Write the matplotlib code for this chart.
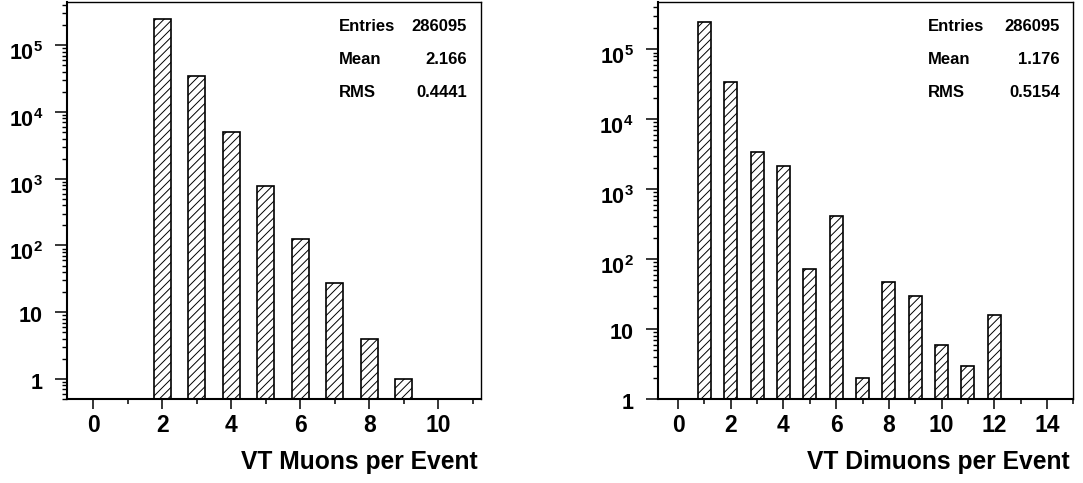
import matplotlib
matplotlib.use("Agg")
import matplotlib.pyplot as plt
import matplotlib.transforms as mtransforms
from matplotlib.ticker import FixedLocator, LogLocator, NullFormatter

plt.rcParams["font.family"] = ["Liberation Sans", "DejaVu Sans"]
plt.rcParams["font.weight"] = "bold"
plt.rcParams["mathtext.fontset"] = "custom"
plt.rcParams["mathtext.rm"] = "Liberation Sans:bold"
plt.rcParams["mathtext.bf"] = "Liberation Sans:bold"
plt.rcParams["hatch.linewidth"] = 0.7

# Multiplicity histograms (bin centre -> event count)
muon_bins = [2, 3, 4, 5, 6, 7, 8, 9]
muon_counts = [245790, 34282, 5084, 778, 126, 27, 4, 1]
muon_stats = [("Entries", "286095"), ("Mean", "2.166"), ("RMS", "0.4441")]

dimuon_bins = [1, 2, 3, 4, 5, 6, 7, 8, 9, 10, 11, 12]
dimuon_counts = [245383, 34650, 3358, 2118, 73, 409, 2, 47, 30, 6, 3, 16]
dimuon_stats = [("Entries", "286095"), ("Mean", "1.176"), ("RMS", "0.5154")]

y_major = [1, 10, 100, 1000, 10000, 100000]
y_labels = ["1", "10", r"$\mathbf{10^{2}}$", r"$\mathbf{10^{3}}$",
            r"$\mathbf{10^{4}}$", r"$\mathbf{10^{5}}$"]

W, H = 1083, 483
fig = plt.figure(figsize=(W / 100, H / 100), dpi=100)
fig.patch.set_facecolor("white")


def px(x, y):
    return x / W, 1 - y / H


def make_panel(rect, bins, counts, xlim, ylim, xmax_tick, stats,
               stat_x, xlabel, xlabel_x):
    ax = fig.add_axes(rect)
    ax.set_yscale("log")
    ax.bar(bins, counts, width=0.5, facecolor="white", edgecolor="black",
           hatch="////", linewidth=1.2, zorder=2)
    ax.set_xlim(*xlim)
    ax.set_ylim(*ylim)

    ax.set_xticks(list(range(0, xmax_tick + 1, 2)))
    ax.set_xticks(list(range(1, xmax_tick + 2, 2)), minor=True)
    ax.set_xticklabels([str(v) for v in range(0, xmax_tick + 1, 2)])
    ax.yaxis.set_major_locator(FixedLocator(y_major))
    ax.set_yticklabels(y_labels)
    ax.yaxis.set_minor_locator(LogLocator(base=10, subs=range(2, 10), numticks=20))
    ax.yaxis.set_minor_formatter(NullFormatter())

    ax.tick_params(axis="x", which="major", length=7.2, width=1.1,
                   direction="out", labelsize=16.5, pad=3.5)
    ax.tick_params(axis="x", which="minor", length=3.6, width=1.1,
                   direction="out")
    ax.tick_params(axis="y", which="major", length=8.6, width=1.1,
                   direction="out", labelsize=15.5, pad=9.0)
    ax.tick_params(axis="y", which="minor", length=3.6, width=1.0,
                   direction="out")
    for lab in ax.get_xticklabels() + ax.get_yticklabels():
        lab.set_fontweight("bold")

    # y labels sit slightly below their ticks; powers of ten a bit more
    for tick, text in zip(ax.yaxis.get_major_ticks(), y_labels):
        shift = 6.0 if text.startswith("$") else 2.0
        off = mtransforms.ScaledTranslation(0, -shift / 100, fig.dpi_scale_trans)
        tick.label1.set_transform(tick.label1.get_transform() + off)

    ax.spines["left"].set_linewidth(1.5)
    ax.spines["bottom"].set_linewidth(1.5)
    ax.spines["top"].set_linewidth(1.0)
    ax.spines["right"].set_linewidth(1.0)
    for sp in ax.spines.values():
        sp.set_zorder(3)

    x_left, x_right = stat_x
    for (name, value), yb in zip(stats, [31, 64.3, 96.7]):
        fig.text(*px(x_left, yb), name, ha="left", va="baseline",
                 fontsize=12, fontweight="bold")
        fig.text(*px(x_right, yb), value, ha="right", va="baseline",
                 fontsize=12, fontweight="bold")

    fig.text(*px(xlabel_x, 469.3), xlabel, ha="right", va="baseline",
             fontsize=17.7, fontweight="bold")
    return ax


top, bottom = 1.7, 399
left_rect = [67.4 / W, 1 - bottom / H, (481.4 - 67.4) / W, (bottom - top) / H]
right_rect = [658.3 / W, 1 - bottom / H, (1073.3 - 658.3) / W, (bottom - top) / H]

make_panel(left_rect, muon_bins, muon_counts, (-0.75, 11.25), (0.5, 4.5e5),
           10, muon_stats, (339.3, 466.7), "VT Muons per Event", 477.7)
make_panel(right_rect, dimuon_bins, dimuon_counts, (-0.75, 14.25), (1, 4.8e5),
           14, dimuon_stats, (928.3, 1060.0), "VT Dimuons per Event", 1070.0)

fig.savefig("out.png", dpi=100)
